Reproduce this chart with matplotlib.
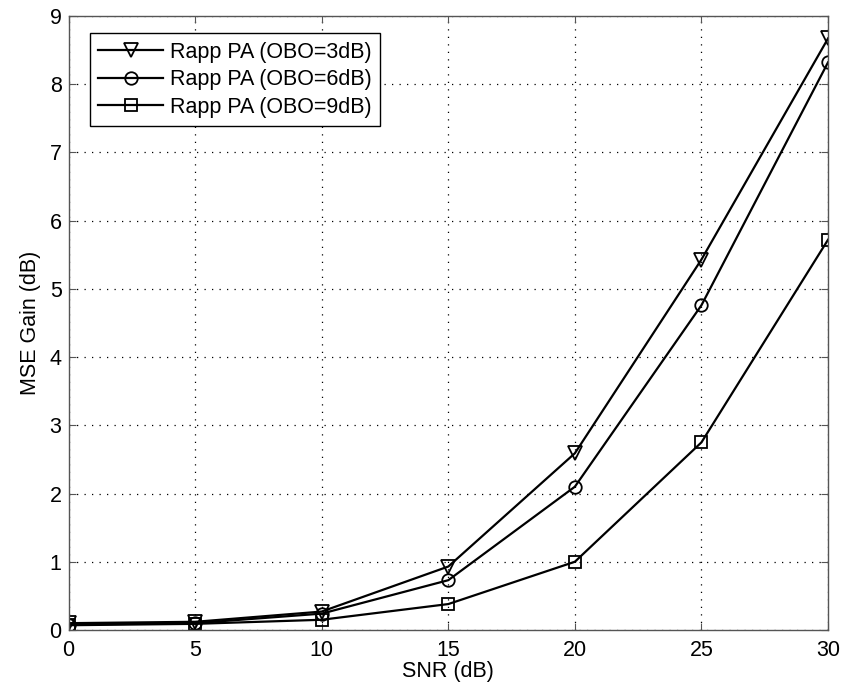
import numpy as np
import matplotlib
matplotlib.use("Agg")
import matplotlib.pyplot as plt

plt.rcParams["font.family"] = ["Liberation Sans", "DejaVu Sans"]

# SNR sweep and MSE gain for each output back-off
snr_db = [0, 5, 10, 15, 20, 25, 30]
gain_obo3 = [0.10, 0.12, 0.27, 0.93, 2.59, 5.43, 8.67]
gain_obo6 = [0.08, 0.10, 0.24, 0.73, 2.10, 4.76, 8.32]
gain_obo9 = [0.07, 0.09, 0.15, 0.38, 1.00, 2.75, 5.72]

labels = ["Rapp PA (OBO=3dB)", "Rapp PA (OBO=6dB)", "Rapp PA (OBO=9dB)"]
x_ticks = [0, 5, 10, 15, 20, 25, 30]
y_ticks = [0, 1, 2, 3, 4, 5, 6, 7, 8, 9]

fs = 15.5

fig = plt.figure(figsize=(8.47, 6.85), dpi=100)
ax = fig.add_axes([0.0809, 0.0803, 0.8967, 0.8964])

style = dict(color="black", linewidth=1.6, markerfacecolor="none",
             markeredgecolor="black", markeredgewidth=1.3)
ax.plot(snr_db, gain_obo3, marker="v", markersize=10, label=labels[0], **style)
ax.plot(snr_db, gain_obo6, marker="o", markersize=9, label=labels[1], **style)
ax.plot(snr_db, gain_obo9, marker="s", markersize=8, label=labels[2], **style)

ax.set_xlim(0, 30)
ax.set_ylim(0, 9)
ax.set_xticks(x_ticks)
ax.set_yticks(y_ticks)
ax.tick_params(direction="in", top=True, right=True, length=5,
               labelsize=fs, color="#555555")
ax.tick_params(axis="x", pad=7)
ax.tick_params(axis="y", pad=5)
for s in ax.spines.values():
    s.set_color("#555555")
    s.set_linewidth(1.0)

# dotted grid at every tick
ax.grid(True, color="black", linestyle=(0, (1, 5)), linewidth=0.9)

ax.set_xlabel("SNR (dB)", fontsize=fs, labelpad=0)
ax.set_ylabel("MSE Gain (dB)", fontsize=fs, labelpad=6)

leg = ax.legend(loc="upper left", bbox_to_anchor=(0.028, 0.972), fontsize=fs,
                fancybox=False, framealpha=1, edgecolor="black",
                handlelength=3.0, handletextpad=0.33, labelspacing=0.3,
                borderpad=0.4, borderaxespad=0)
leg.get_frame().set_linewidth(1.0)

fig.savefig("out.png", dpi=100)
